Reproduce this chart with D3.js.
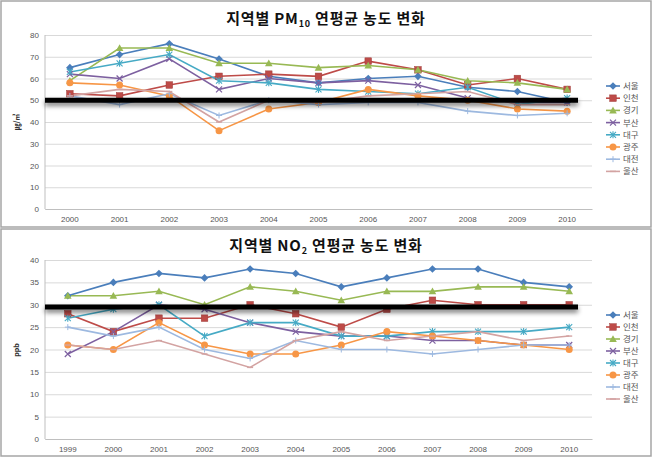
<!DOCTYPE html>
<html><head><meta charset="utf-8">
<script src="https://cdn.jsdelivr.net/npm/d3@7"></script>
<style>
body{margin:0;background:#fff;}
svg{display:block;font-family:"Noto Sans CJK KR","Noto Sans",sans-serif;}
</style></head>
<body><svg id="c" width="654" height="458"></svg>
<script>
const regions = ["서울","인천","경기","부산","대구","광주","대전","울산"];
const colors = ["#4A7EBB","#BE4B48","#98B954","#7D60A0","#46AAC5","#F79646","#9DB9E0","#D3A3A2"];
const markers = ["diamond","square","triangle","x","star","circle","plus","dash"];

const pmYears = ["2000","2001","2002","2003","2004","2005","2006","2007","2008","2009","2010"];
const pmTicks = [0,10,20,30,40,50,60,70,80];
const pmStandard = 50;
const pmSeoul   = [65,71,76,69,61,58,60,61,56,54,49];
const pmIncheon = [53,52,57,61,62,61,68,64,57,60,55];
const pmGyeonggi= [59,74,74,67,67,65,66,64,59,58,55];
const pmBusan   = [62,60,69,55,60,58,59,57,51,49,49];
const pmDaegu   = [63,67,71,59,58,55,54,53,56,48,51];
const pmGwangju = [58,57,52,36,46,49,55,52,50,46,45];
const pmDaejeon = [52,48,53,43,50,48,49,49,45,43,44];
const pmUlsan   = [52,55,54,40,50,49,52,53,54,48,48];

const noYears = ["1999","2000","2001","2002","2003","2004","2005","2006","2007","2008","2009","2010"];
const noTicks = [0,5,10,15,20,25,30,35,40];
const noStandard = 29.5;
const noSeoul   = [32,35,37,36,38,37,34,36,38,38,35,34];
const noIncheon = [28,24,27,27,30,28,25,29,31,30,30,30];
const noGyeonggi= [32,32,33,30,34,33,31,33,33,34,34,33];
const noBusan   = [19,24,30,29,26,24,23,23,22,22,21,21];
const noDaegu   = [27,29,30,23,26,26,23,23,24,24,24,25];
const noGwangju = [21,20,26,21,19,19,21,24,23,22,21,20];
const noDaejeon = [25,23,25,20,18,22,20,20,19,20,21,21];
const noUlsan   = [21,20,22,19,16,22,24,22,23,24,22,23];

const svg = d3.select("#c");
const defs = svg.append("defs");
const f = defs.append("filter").attr("id","shadow").attr("filterUnits","userSpaceOnUse")
  .attr("x",0).attr("y",0).attr("width",654).attr("height",458);
f.append("feGaussianBlur").attr("in","SourceAlpha").attr("stdDeviation",2.5).attr("result","b");
f.append("feOffset").attr("in","b").attr("dy",3).attr("result","o");
f.append("feComponentTransfer").attr("in","o").attr("result","o2").append("feFuncA").attr("type","linear").attr("slope",0.55);
const fm = f.append("feMerge"); fm.append("feMergeNode").attr("in","o2"); fm.append("feMergeNode").attr("in","SourceGraphic");

function drawMarker(g, type, x, y, color){
  const s = 3.3;
  if(type==="diamond") g.append("path").attr("d",`M${x},${y-s-0.5}L${x+s+0.5},${y}L${x},${y+s+0.5}L${x-s-0.5},${y}Z`).attr("fill",color);
  else if(type==="square") g.append("rect").attr("x",x-3.3).attr("y",y-3.3).attr("width",6.6).attr("height",6.6).attr("fill",color).attr("stroke",d3.color(color).darker(0.5)).attr("stroke-width",0.5);
  else if(type==="triangle") g.append("path").attr("d",`M${x},${y-3.8}L${x+3.8},${y+3}L${x-3.8},${y+3}Z`).attr("fill",color);
  else if(type==="x") g.append("path").attr("d",`M${x-3},${y-3}L${x+3},${y+3}M${x-3},${y+3}L${x+3},${y-3}`).attr("stroke",color).attr("stroke-width",1.2);
  else if(type==="star") g.append("path").attr("d",`M${x-3},${y-3}L${x+3},${y+3}M${x-3},${y+3}L${x+3},${y-3}M${x},${y-3.5}L${x},${y+3.5}`).attr("stroke",color).attr("stroke-width",1.1);
  else if(type==="circle") g.append("circle").attr("cx",x).attr("cy",y).attr("r",3.5).attr("fill",color);
  else if(type==="plus") g.append("path").attr("d",`M${x-3},${y}L${x+3},${y}M${x},${y-3}L${x},${y+3}`).attr("stroke",color).attr("stroke-width",1);
  else if(type==="dash") g.append("path").attr("d",`M${x-3},${y}L${x+3},${y}`).attr("stroke",color).attr("stroke-width",1.4);
}

function chart(cfg){
  const g = svg.append("g");
  g.append("rect").attr("x",cfg.box[0]).attr("y",cfg.box[1]).attr("width",cfg.box[2]).attr("height",cfg.box[3])
    .attr("fill","#fff").attr("stroke","#A6A6A6").attr("stroke-width",1.5);
  const t = g.append("text").attr("x",326).attr("y",cfg.titleY).attr("text-anchor","middle")
    .attr("font-size",15).attr("font-weight","bold").attr("letter-spacing",0.8).attr("fill","#111");
  t.append("tspan").text(cfg.title[0]);
  t.append("tspan").text(cfg.title[1]).attr("font-size",9).attr("dy",3);
  t.append("tspan").text(cfg.title[2]).attr("dy",-3);

  const x = d3.scaleBand().domain(cfg.cats).range([45, 592]);
  const y = d3.scaleLinear().domain([cfg.ticks[0], cfg.ticks[cfg.ticks.length-1]]).range(cfg.yr);

  const ya = g.append("g").attr("transform","translate(45,0)")
    .call(d3.axisLeft(y).tickValues(cfg.ticks).tickSize(-547).tickPadding(6));
  ya.select(".domain").remove();
  ya.selectAll(".tick line").attr("stroke","#D9D9D9").attr("stroke-width",1);
  ya.selectAll(".tick text").attr("font-size",8).attr("fill","#555").attr("font-family","Liberation Sans, Arial, sans-serif");
  g.append("line").attr("x1",45).attr("x2",45).attr("y1",cfg.yr[1]).attr("y2",cfg.yr[0]).attr("stroke","#BFBFBF");

  const xa = g.append("g").attr("transform",`translate(0,${cfg.yr[0]})`)
    .call(d3.axisBottom(x).tickSize(0).tickPadding(7));
  xa.select(".domain").attr("stroke","#BFBFBF");
  xa.selectAll(".tick text").attr("font-size",8).attr("fill","#555").attr("font-family","Liberation Sans, Arial, sans-serif");

  g.append("text").attr("transform",`translate(19,${cfg.ylabY}) rotate(-90)`).attr("text-anchor","middle")
    .attr("font-size",7).attr("font-weight","bold").attr("fill","#333").text(cfg.ylab);

  const line = d3.line().x((d,i)=>x(cfg.cats[i])+x.bandwidth()/2).y(d=>y(d));
  cfg.series.forEach((s,k)=>{
    g.append("path").datum(s).attr("d",line).attr("fill","none").attr("stroke",colors[k]).attr("stroke-width",1.6);
  });
  cfg.series.forEach((s,k)=>{
    s.forEach((v,i)=>drawMarker(g, markers[k], x(cfg.cats[i])+x.bandwidth()/2, y(v), colors[k]));
  });

  g.append("rect").attr("x",45).attr("width",533).attr("y",y(cfg.std)-2.5).attr("height",5)
    .attr("fill","#000").attr("filter","url(#shadow)");

  regions.forEach((r,k)=>{
    const ly = cfg.legY + k*cfg.legStep;
    g.append("line").attr("x1",606).attr("x2",620).attr("y1",ly).attr("y2",ly).attr("stroke",colors[k]).attr("stroke-width",1.6);
    drawMarker(g, markers[k], 613, ly, colors[k]);
    g.append("text").attr("x",623).attr("y",ly+3).attr("font-size",8.5).attr("fill","#555").text(r);
  });
}

chart({box:[1,1,650,226], title:["지역별 PM","10"," 연평균 농도 변화"], titleY:24,
  cats:pmYears, ticks:pmTicks, yr:[209,35], std:pmStandard, ylab:"㎍/㎥", ylabY:122,
  series:[pmSeoul,pmIncheon,pmGyeonggi,pmBusan,pmDaegu,pmGwangju,pmDaejeon,pmUlsan],
  legY:86, legStep:12.2});
chart({box:[1,229,650,227], title:["지역별 NO","2"," 연평균 농도 변화"], titleY:251,
  cats:noYears, ticks:noTicks, yr:[439,260], std:noStandard, ylab:"ppb", ylabY:350,
  series:[noSeoul,noIncheon,noGyeonggi,noBusan,noDaegu,noGwangju,noDaejeon,noUlsan],
  legY:315, legStep:12});
</script></body></html>
